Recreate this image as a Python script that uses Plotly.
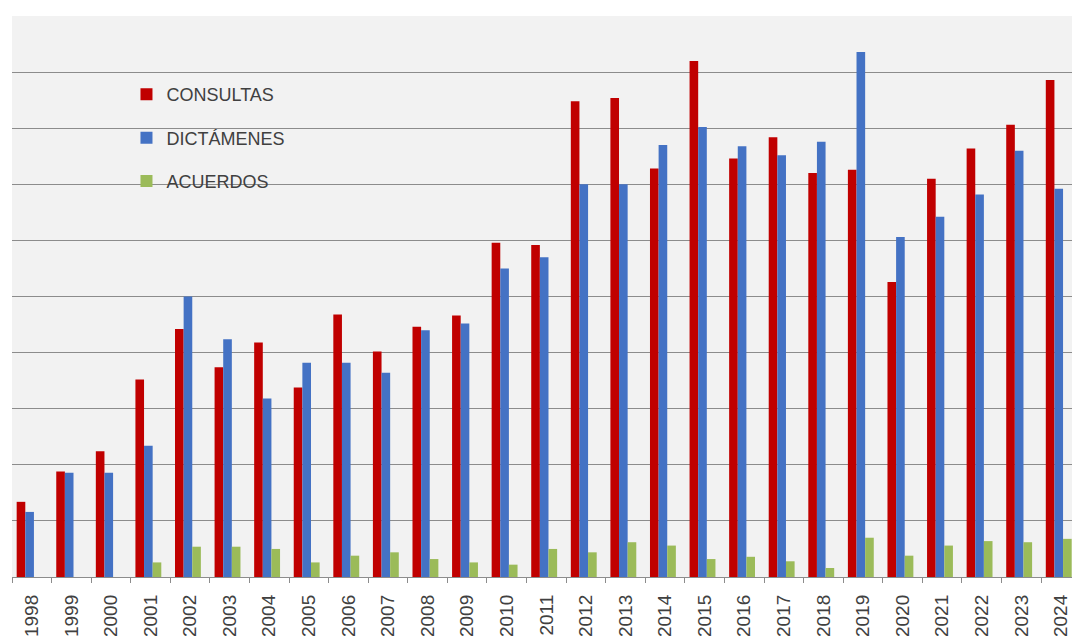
import plotly.graph_objects as go

years = [str(y) for y in range(1998, 2025)]
consultas = [67, 94, 112, 176, 221, 187, 209, 169, 234, 201, 223, 233, 298, 296,
             424, 427, 364, 460, 373, 392, 360, 363, 263, 355, 382, 403, 443]
dictamenes = [58, 93, 93, 117, 250, 212, 159, 191, 191, 182, 220, 226, 275, 285,
              350, 350, 385, 401, 384, 376, 388, 468, 303, 321, 341, 380, 346]
acuerdos = [None, None, None, 13, 27, 27, 25, 13, 19, 22, 16, 13, 11, 25,
            22, 31, 28, 16, 18, 14, 8, 35, 19, 28, 32, 31, 34]

series = [
    ("CONSULTAS", consultas, "#C00000", -0.382),
    ("DICTÁMENES", dictamenes, "#4472C4", -0.164),
    ("ACUERDOS", acuerdos, "#9BBB59", 0.054),
]

fig = go.Figure()
for i, (name, vals, color, off) in enumerate(series):
    fig.add_trace(go.Bar(
        x=years, y=vals, name=name, marker_color=color, marker_line_width=0,
        width=0.218, offset=off, legendgroup=f"g{i}",
    ))

fig.update_layout(
    width=1072, height=637,
    margin=dict(l=12, r=0, t=16, b=60),
    paper_bgcolor="white", plot_bgcolor="#F2F2F2",
    barmode="group",
    font=dict(family="Liberation Sans, Arial, sans-serif", color="#404040"),
    showlegend=True,
    legend=dict(
        x=0.108, y=0.893, xanchor="left", yanchor="top",
        bgcolor="rgba(0,0,0,0)", borderwidth=0,
        font=dict(size=18, color="#404040"),
        tracegroupgap=17, traceorder="grouped",
    ),
    xaxis=dict(
        type="category", range=[-0.5, 26.28], automargin=False,
        tickangle=-90, tickfont=dict(size=19, color="#404040"),
        ticks="outside", ticklen=5, tickcolor="#8C8C8C", tickwidth=1.3,
        tickson="boundaries", showgrid=False,
        showline=True, linecolor="#8C8C8C", linewidth=1.3,
        ticklabelstandoff=9,
    ),
    yaxis=dict(
        range=[0, 500], dtick=50, showticklabels=False, automargin=False,
        showgrid=True, gridcolor="#8C8C8C", gridwidth=1.3,
        zeroline=False, ticks="",
    ),
)

fig.write_html("out.html")
